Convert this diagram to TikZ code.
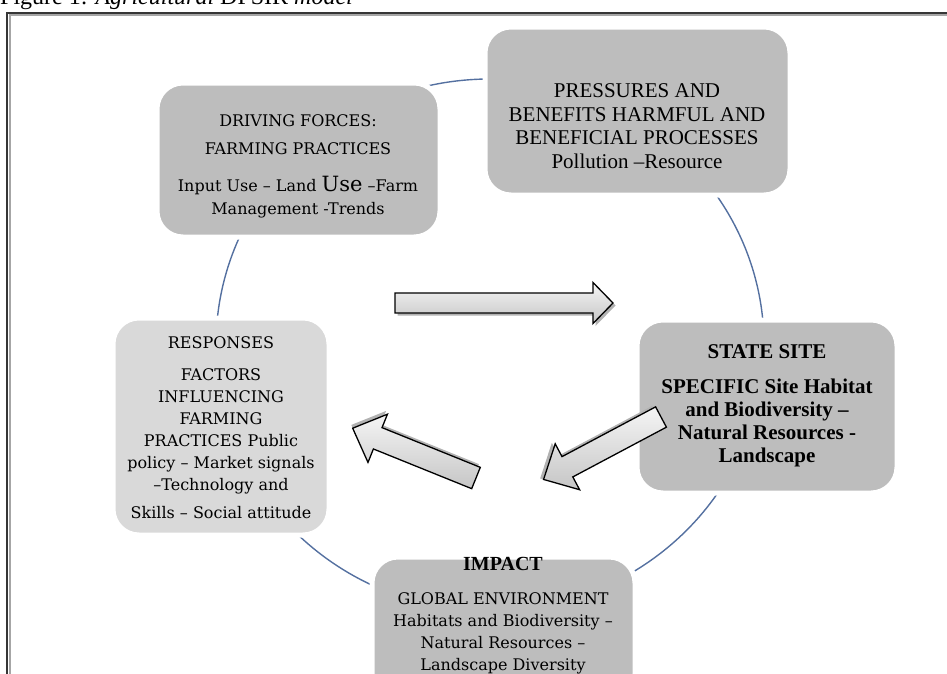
\documentclass[tikz,border=0pt]{standalone}
\usepackage{fontspec}
\setmainfont{Liberation Serif}
\newfontfamily\slabfont{DejaVu Serif}
\usetikzlibrary{calc}
\definecolor{boxgray}{HTML}{BDBDBD}
\definecolor{boxlight}{HTML}{D9D9D9}
\definecolor{ringblue}{HTML}{5470A0}
\definecolor{framegray}{HTML}{363636}
\tikzset{%
  pics/block arrow/.style={code={%
      \tikzset{block arrow/.cd,#1}%
      \pgfkeysgetvalue{/tikz/block arrow/len}\La
      \pgfkeysgetvalue{/tikz/block arrow/shaft}\Wa
      \pgfkeysgetvalue{/tikz/block arrow/head}\Ha
      \pgfkeysgetvalue{/tikz/block arrow/tip}\Ka
      % shadow under the arrow
      \path[block arrow/shadow,xshift=2.5pt,yshift=-2.5pt]
        (0,-\Wa) -- ({\La-\Ka},-\Wa) -- ({\La-\Ka},-\Ha) -- (\La,0)
        -- ({\La-\Ka},\Ha) -- ({\La-\Ka},\Wa) -- (0,\Wa) -- cycle;
      % the arrow itself
      \path[block arrow/body]
        (0,-\Wa) -- ({\La-\Ka},-\Wa) -- ({\La-\Ka},-\Ha) -- (\La,0)
        -- ({\La-\Ka},\Ha) -- ({\La-\Ka},\Wa) -- (0,\Wa) -- cycle;
    }
  },
  block arrow/.cd,
  len/.initial=200,
  shaft/.initial=10,
  head/.initial=20,
  tip/.initial=20,
  shadow/.style={fill=black!30},
  body/.style={draw=black,line width=1.3pt,line join=miter,
    top color=gray!8,bottom color=gray!45},
}
\tikzset{%
  dpsir box/.style={draw=white, line width=5pt, rounded corners=26pt,
    fill=boxgray, inner sep=0pt},
  light box/.style={dpsir box, fill=boxlight},
  slab text/.style={align=center, inner sep=0pt,
    font=\slabfont\fontsize{16}{22}\selectfont},
  times text/.style={align=center, inner sep=0pt,
    font=\fontsize{21}{23.5}\selectfont},
  ring line/.style={draw=ringblue, line width=1.4pt},
  frame line/.style={draw=framegray, line width=2pt},
  frame shade/.style={draw=black!35, line width=2pt},
}
\newcommand{\CycleData}{
  \coordinate (ring) at (490,345);% centre of the cycle
}

\begin{document}
\begin{tikzpicture}[x=1pt,y=-1pt]
  \useasboundingbox (0,0) rectangle (947,673);
  \CycleData
  % frame and caption
  \draw[frame shade] (9.5,690) -- (9.5,15) -- (960,15);
  \draw[frame line] (7,690) -- (7,12.5) -- (960,12.5);
  \node[anchor=base west, inner sep=0pt, font=\fontsize{24}{24}\selectfont]
    (title) at (0,4) {Figure 1: \textit{Agricultural} DPSIR \textit{model}};
  % the cycle
  \draw[ring line] (ring) ellipse[x radius=274, y radius=266];
  % boxes
  \node[dpsir box, minimum width=283pt, minimum height=154pt] (drive) at (298.5,160) {};
  \node[dpsir box, minimum width=305pt, minimum height=168pt] (pres) at (637.5,111) {};
  \node[dpsir box, minimum width=260pt, minimum height=173pt] (state) at (767,406.5) {};
  \node[dpsir box, minimum width=263pt, minimum height=143pt] (impact) at (503.5,628.5) {};
  \node[light box, minimum width=216pt, minimum height=217pt] (resp) at (221,426.5) {};
  % texts
  \node[slab text, font=\slabfont\fontsize{16}{23}\selectfont] (drive-text) at (298,166)
    {DRIVING FORCES:\\[5pt] FARMING PRACTICES\\[14pt]
     Input Use – Land {\fontsize{21}{23}\selectfont Use} –Farm\\ Management -Trends};
  \node[times text] (pres-text) at (637,126)
    {PRESSURES AND\\ BENEFITS HARMFUL AND\\ BENEFICIAL PROCESSES\\ Pollution –Resource};
  \node[times text, font=\bfseries\fontsize{21}{23}\selectfont] (state-text) at (767,406)
    {STATE SITE\\[12pt] SPECIFIC Site Habitat\\ and Biodiversity –\\
     Natural Resources -\\ Landscape};
  \node[slab text] (impact-text) at (503,616)
    {{\rmfamily\bfseries\fontsize{20}{22}\selectfont IMPACT}\\[12pt]
     GLOBAL ENVIRONMENT\\ Habitats and Biodiversity –\\ Natural Resources –\\
     Landscape Diversity};
  \node[slab text] (resp-text) at (221,428)
    {RESPONSES\\[10pt] FACTORS\\ INFLUENCING\\ FARMING\\ PRACTICES Public\\
     policy – Market signals\\ –Technology and\\[6pt] Skills – Social attitude};
  % block arrows
  \pic (fwd) at (395,303) {block arrow={len=218,shaft=10,head=20.5,tip=20}};
  \pic[rotate=208] (down) at (661,417) {block arrow={len=133,shaft=11.5,head=26,tip=27}};
  \pic[rotate=158] (back) at (476,478) {block arrow={len=133,shaft=11.5,head=26,tip=27}};
\end{tikzpicture}
\end{document}
